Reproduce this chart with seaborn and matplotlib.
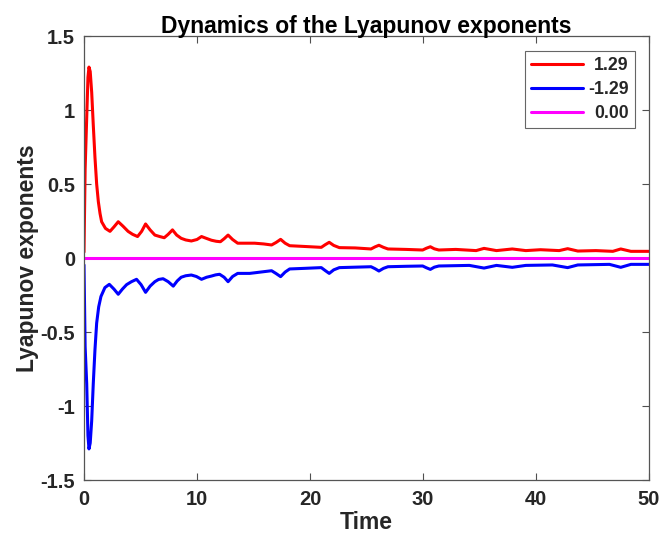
import matplotlib
matplotlib.use("Agg")
import matplotlib.pyplot as plt
from matplotlib.transforms import Affine2D
import seaborn as sns
import pandas as pd

# ---- data ----
t_red = [0.0, 0.1, 0.24, 0.35, 0.44, 0.55, 0.68, 0.82, 0.97, 1.12, 1.27, 1.42, 1.56, 1.9, 2.3, 2.65, 3.03, 3.45, 3.9, 4.3, 4.74,
         5.1, 5.45, 5.85, 6.27, 6.7, 7.1, 7.45, 7.83, 8.2, 8.6, 9.0, 9.5, 10.0, 10.4, 10.85, 11.28, 11.7, 12.07,
         12.4, 12.75, 13.15, 13.6, 14.3, 15.1, 15.9, 16.6, 17.0, 17.4, 17.8, 18.2, 19.5, 21.0, 21.35, 21.7, 22.1, 22.6,
         24.0, 25.4, 25.75, 26.1, 26.5, 26.9, 28.5, 29.97, 30.3, 30.65, 31.0, 31.4, 32.9, 34.7, 35.4, 36.5,
         37.9, 39.1, 40.4, 42.05, 42.8, 43.7, 45.3, 46.8, 47.5, 48.4, 49.85, 50.0]
v_red = [0.04, 0.6, 0.95, 1.22, 1.29, 1.26, 1.12, 0.9, 0.68, 0.5, 0.38, 0.3, 0.245, 0.2, 0.18, 0.21, 0.245, 0.215, 0.18, 0.16, 0.145,
         0.18, 0.23, 0.19, 0.155, 0.145, 0.137, 0.16, 0.19, 0.155, 0.133, 0.122, 0.115, 0.125, 0.145, 0.132, 0.12, 0.113, 0.11,
         0.13, 0.155, 0.125, 0.1, 0.1, 0.1, 0.095, 0.088, 0.105, 0.126, 0.1, 0.083, 0.078, 0.072, 0.09, 0.106, 0.085, 0.07,
         0.068, 0.061, 0.075, 0.086, 0.072, 0.061, 0.058, 0.054, 0.066, 0.076, 0.062, 0.054, 0.058, 0.05, 0.065, 0.05,
         0.061, 0.05, 0.056, 0.05, 0.063, 0.047, 0.05, 0.045, 0.061, 0.045, 0.045, 0.045]

t_blue = [0.0, 0.1, 0.24, 0.35, 0.44, 0.55, 0.68, 0.82, 0.97, 1.12, 1.3, 1.5, 1.85, 2.24, 2.65, 3.03, 3.4, 3.77, 4.2, 4.65,
          5.05, 5.45, 5.85, 6.27, 6.6, 7.0, 7.45, 7.9, 8.25, 8.6, 9.0, 9.5, 9.95, 10.4, 10.85, 11.28, 11.65, 12.0,
          12.4, 12.75, 13.15, 13.6, 14.66, 15.1, 16.6, 17.0, 17.4, 17.8, 18.2, 19.5, 21.0, 21.35, 21.7, 22.1, 22.6,
          24.0, 25.4, 25.75, 26.1, 26.5, 26.9, 28.5, 29.97, 30.3, 30.65, 31.0, 31.4, 34.1, 35.4, 36.5,
          37.9, 39.1, 41.45, 42.8, 43.7, 46.5, 47.5, 48.4, 49.85, 50.0]
v_blue = [-0.047, -0.6, -0.85, -1.2, -1.29, -1.25, -1.1, -0.85, -0.62, -0.44, -0.33, -0.26, -0.2, -0.178, -0.21, -0.245, -0.21, -0.18, -0.16, -0.144,
          -0.18, -0.232, -0.19, -0.16, -0.145, -0.14, -0.16, -0.19, -0.155, -0.13, -0.12, -0.115, -0.125, -0.144, -0.13, -0.122, -0.114, -0.11,
          -0.13, -0.16, -0.125, -0.104, -0.104, -0.1, -0.086, -0.105, -0.126, -0.095, -0.074, -0.07, -0.065, -0.085, -0.104, -0.08, -0.065,
          -0.062, -0.059, -0.072, -0.088, -0.07, -0.059, -0.056, -0.054, -0.066, -0.077, -0.062, -0.054, -0.05, -0.068, -0.05,
          -0.063, -0.05, -0.047, -0.065, -0.047, -0.043, -0.063, -0.043, -0.043, -0.043]

t_zero = [0.0, 50.0]
v_zero = [0.0, 0.0]

legend_labels = ["1.29", "-1.29", "0.00"]
x_ticks = [0, 10, 20, 30, 40, 50]
y_ticks = [-1.5, -1, -0.5, 0, 0.5, 1, 1.5]
y_tick_labels = ["-1.5", "-1", "-0.5", "0", "0.5", "1", "1.5"]

sns.set_theme(style="white")
plt.rcParams['font.family'] = ['Liberation Sans', 'DejaVu Sans']
plt.rcParams['font.weight'] = 'bold'

fig = plt.figure(figsize=(6.61, 5.37), dpi=100)
ax = fig.add_axes([84/661, 1-480/537, (649-84)/661, (480-36)/537])

df_r = pd.DataFrame({"t": t_red, "v": v_red})
df_b = pd.DataFrame({"t": t_blue, "v": v_blue})
df_z = pd.DataFrame({"t": t_zero, "v": v_zero})
sns.lineplot(data=df_r, x="t", y="v", ax=ax, color="#ff0000", lw=2.2, label=legend_labels[0])
sns.lineplot(data=df_b, x="t", y="v", ax=ax, color="#0000ff", lw=2.2, label=legend_labels[1])
sns.lineplot(data=df_z, x="t", y="v", ax=ax, color="#ff00ff", lw=2.2, label=legend_labels[2])

ax.set_xlim(0, 50)
ax.set_ylim(-1.5, 1.5)
ax.set_xticks(x_ticks)
ax.set_xticklabels([str(x) for x in x_ticks])
ax.set_yticks(y_ticks)
ax.set_yticklabels(y_tick_labels)

txt = "#262626"
ax.tick_params(direction="in", length=5, width=0.8, color="#505050", labelsize=14.5,
               labelcolor=txt, top=True, right=True, bottom=True, left=True)
ax.tick_params(axis="x", pad=7)
ax.tick_params(axis="y", pad=6.5)
for lab in ax.get_xticklabels() + ax.get_yticklabels():
    lab.set_fontweight("bold")
for s in ax.spines.values():
    s.set_color("#555555")
    s.set_linewidth(0.9)

ax.set_xlabel("Time", fontsize=16.5, fontweight="bold", color=txt, labelpad=1.5)
ax.set_ylabel("Lyapunov exponents", fontsize=16.5, fontweight="bold", color=txt, labelpad=1)
ax.set_title("Dynamics of the Lyapunov exponents", fontsize=16.5, fontweight="bold", color="black", pad=2)

leg = ax.legend(loc="upper right", bbox_to_anchor=((635-84)/565, (480-51)/444), bbox_transform=ax.transAxes,
                borderaxespad=0, frameon=True, fancybox=False, prop={"weight": "bold", "size": 12.7},
                handlelength=2.95, handletextpad=0.3, borderpad=0.35, labelspacing=0.4)
leg.get_frame().set_edgecolor("#404040")
leg.get_frame().set_linewidth(0.8)
for t in leg.get_texts():
    t.set_color(txt)

# right-align the legend texts within their column
fig.canvas.draw()
r = fig.canvas.get_renderer()
widths = [t.get_window_extent(r).width for t in leg.get_texts()]
wmax = max(widths)
for t, w in zip(leg.get_texts(), widths):
    t.set_transform(t.get_transform() + Affine2D().translate(wmax - w, 0))

fig.savefig("out.png", dpi=100)
